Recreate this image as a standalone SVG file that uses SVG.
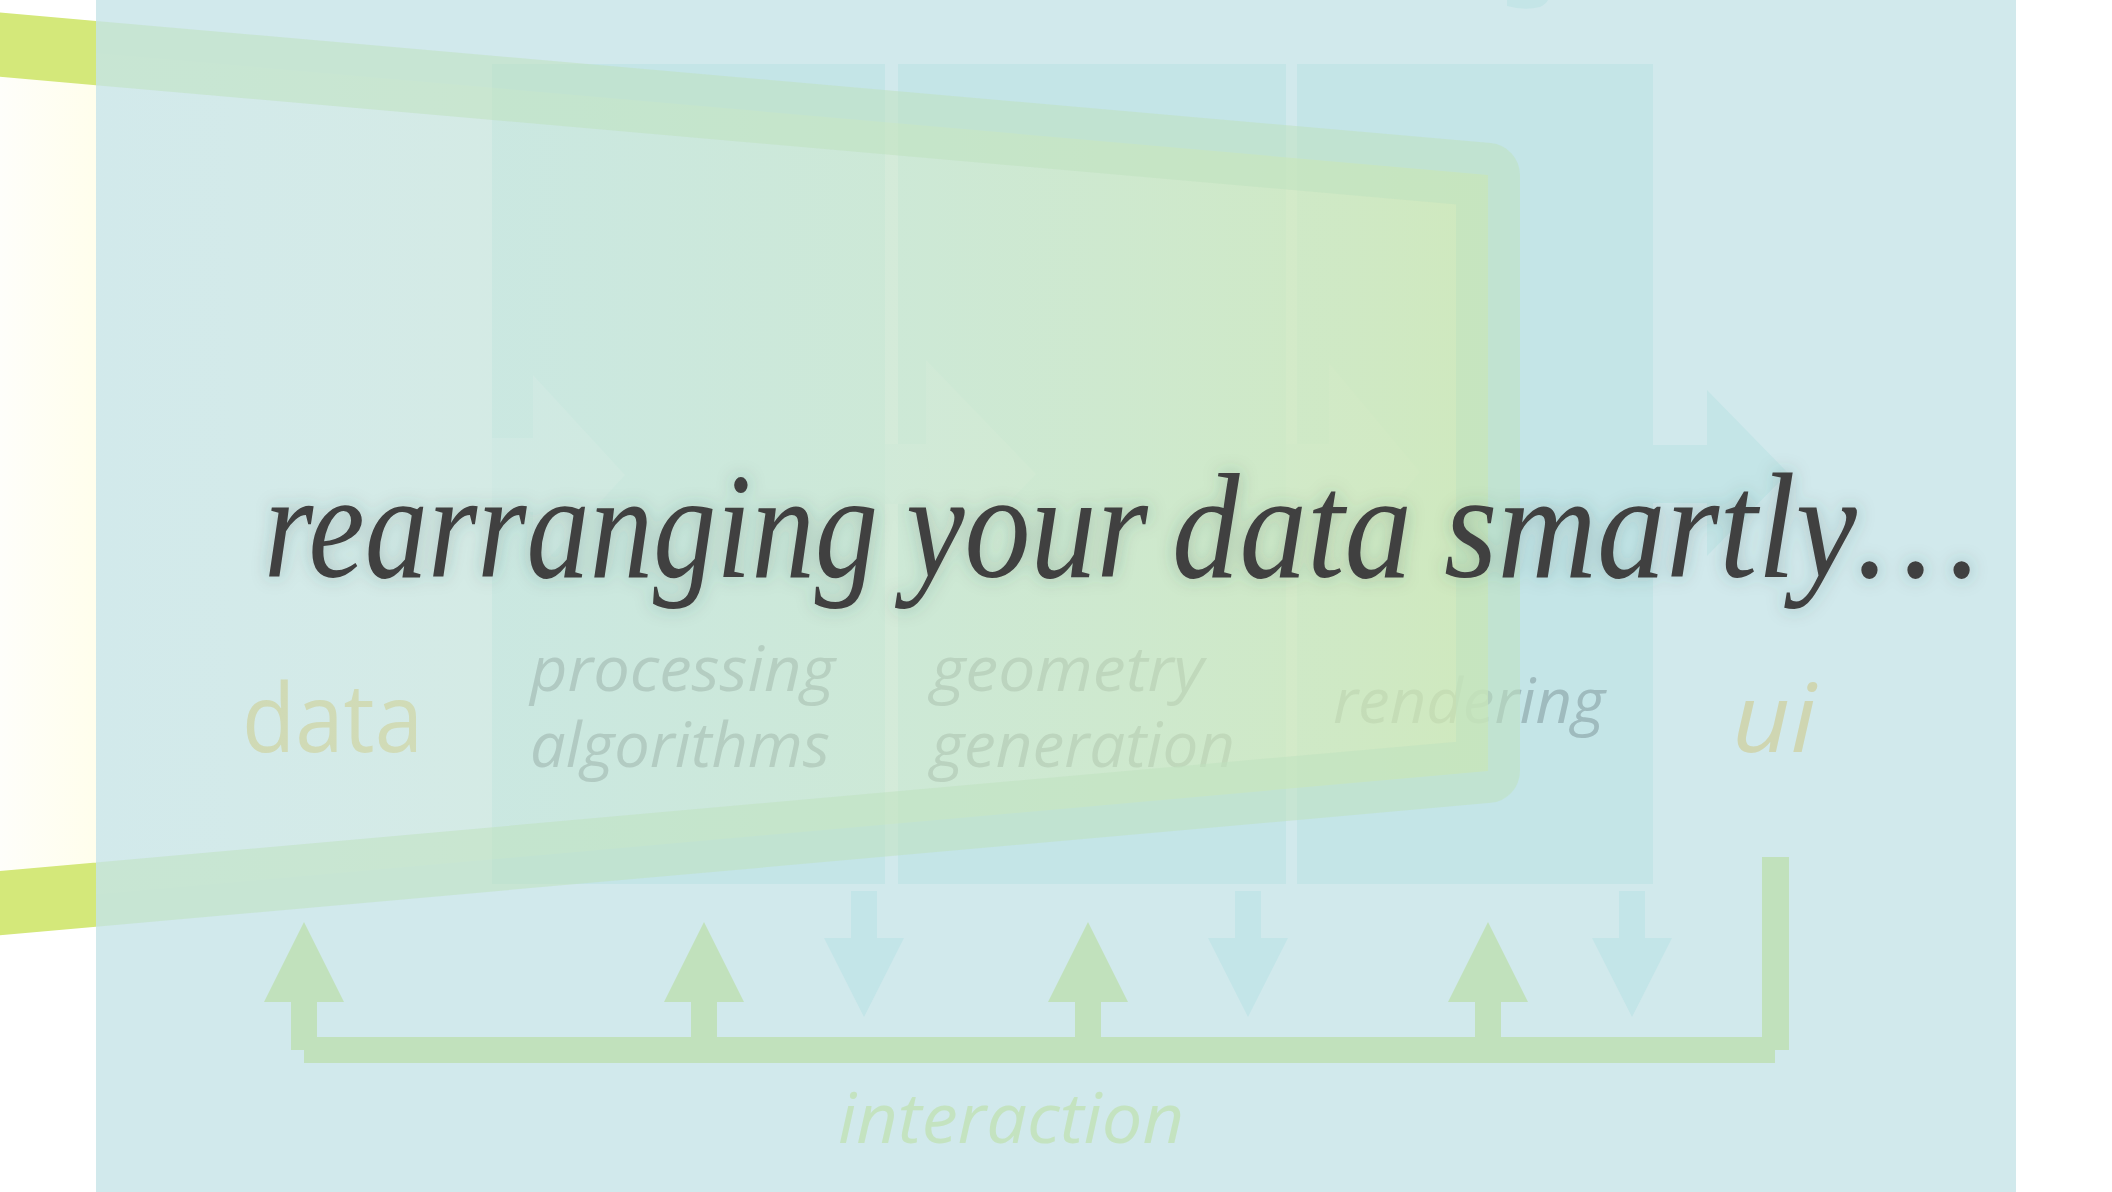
<svg xmlns="http://www.w3.org/2000/svg" width="2112" height="1192" viewBox="0 0 2112 1192">
<defs>
<style>
.box{fill:#c4e5e7}
.flow{fill:#cbe7ea}
.up{fill:#c1e1bc}
.down{fill:#c3e5e8}
.lbl{font-family:"Open Sans","DejaVu Sans",sans-serif}
.it{font-style:italic}
.title{font-family:"Liberation Serif","Times New Roman",serif;font-style:italic;font-size:150px;fill:#404040}
</style>
<clipPath id="leftClip"><rect x="-100" y="-100" width="196" height="1400"/></clipPath>
<clipPath id="mainClip"><rect x="96" y="-100" width="2100" height="1400"/></clipPath>
<linearGradient id="fillLeft" gradientUnits="userSpaceOnUse" x1="0" y1="0" x2="96" y2="0">
<stop offset="0" stop-color="#fefefa"/>
<stop offset="1" stop-color="#fffeec"/>
</linearGradient>
<linearGradient id="fillMain" gradientUnits="userSpaceOnUse" x1="96" y1="0" x2="1457" y2="0">
<stop offset="0" stop-color="#e4f2dc" stop-opacity="0.05"/>
<stop offset="0.5" stop-color="#d8edc6" stop-opacity="0.4"/>
<stop offset="1" stop-color="#d3eab2" stop-opacity="0.75"/>
</linearGradient>
<filter id="glow" x="-5%" y="-40%" width="110%" height="180%">
<feGaussianBlur in="SourceAlpha" stdDeviation="9" result="b"/>
<feFlood flood-color="#2f4f4a" flood-opacity="0.3"/>
<feComposite operator="in" in2="b"/>
<feMerge><feMergeNode/><feMergeNode in="SourceGraphic"/></feMerge>
</filter>
<path id="funnelPath" d="M-40,41.2 L1488,175 L1488,771 L-40,906.6"/>
</defs>

<rect width="2112" height="1192" fill="#ffffff"/>

<!-- left visible part of funnel -->
<g id="funnel-left" clip-path="url(#leftClip)">
<use href="#funnelPath" fill="url(#fillLeft)" stroke="#d4e87a" stroke-width="64" stroke-linejoin="round"/>
</g>

<rect id="panel" x="96" y="0" width="1920" height="1192" fill="#d1e9ec"/>
<path d="M1507,0 L1507,6 Q1525,11 1540,7 Q1546,4 1548,0 Z" fill="#c4e5e7"/>

<!-- pipeline stages -->
<g id="processing">
<rect class="box" x="492" y="64" width="393" height="820"/>
<text class="lbl it" x="530" y="691" font-size="62" fill="#9fbbbe" textLength="305" lengthAdjust="spacingAndGlyphs">processing</text>
<text class="lbl it" x="530" y="767" font-size="62" fill="#9fbbbe" textLength="300" lengthAdjust="spacingAndGlyphs">algorithms</text>
</g>
<g id="geometry">
<rect class="box" x="898" y="64" width="388" height="820"/>
<text class="lbl it" x="931" y="691" font-size="62" fill="#9fbbbe" textLength="273" lengthAdjust="spacingAndGlyphs">geometry</text>
<text class="lbl it" x="931" y="767" font-size="62" fill="#9fbbbe" textLength="304" lengthAdjust="spacingAndGlyphs">generation</text>
</g>
<g id="rendering">
<rect class="box" x="1297" y="64" width="356" height="820"/>
<text class="lbl it" x="1333" y="723" font-size="62" fill="#9fbbbe" textLength="272" lengthAdjust="spacingAndGlyphs">rendering</text>
</g>
<g id="data">
<text class="lbl" x="242" y="752" font-size="96" fill="#cdd6b0" textLength="181" lengthAdjust="spacingAndGlyphs">data</text>
</g>
<g id="ui">
<text class="lbl it" x="1732" y="752" font-size="96" fill="#cfd6b2" textLength="84" lengthAdjust="spacingAndGlyphs">ui</text>
</g>

<!-- flow arrows between stages -->
<g id="flow-arrows">
<polygon class="flow" points="492,438 533,438 533,375 625,475 533,575 533,512 492,512"/>
<polygon class="flow" points="885,444 926,444 926,360 1036,474 926,588 926,504 885,504"/>
<polygon class="flow" points="1286,444 1329,444 1329,363 1420,472 1329,581 1329,500 1286,500"/>
<polygon class="box" points="1653,445 1707,445 1707,390 1788,473 1707,556 1707,503 1653,503"/>
</g>

<!-- funnel over the panel -->
<g id="funnel" clip-path="url(#mainClip)">
<use href="#funnelPath" fill="url(#fillMain)" stroke="#bfe1bf" stroke-opacity="0.55" stroke-width="64" stroke-linejoin="round"/>
</g>

<!-- interaction connectors -->
<g id="connectors">
<rect class="up" x="304" y="1037" width="1471" height="26"/>
<rect class="up" x="1762" y="857" width="27" height="193"/>
<polygon class="up" points="304,922 344,1002 317,1002 317,1050 291,1050 291,1002 264,1002"/>
<polygon class="up" points="704,922 744,1002 717,1002 717,1040 691,1040 691,1002 664,1002"/>
<polygon class="up" points="1088,922 1128,1002 1101,1002 1101,1040 1075,1040 1075,1002 1048,1002"/>
<polygon class="up" points="1488,922 1528,1002 1501,1002 1501,1040 1475,1040 1475,1002 1448,1002"/>
<polygon class="down" points="851,891 877,891 877,938 904,938 864,1017 824,938 851,938"/>
<polygon class="down" points="1235,891 1261,891 1261,938 1288,938 1248,1017 1208,938 1235,938"/>
<polygon class="down" points="1619,891 1645,891 1645,938 1672,938 1632,1017 1592,938 1619,938"/>
</g>
<g id="interaction">
<text class="lbl it" x="838" y="1143" font-size="70" fill="#c4e3c0" textLength="346" lengthAdjust="spacingAndGlyphs">interaction</text>
</g>

<!-- title -->
<g id="title" filter="url(#glow)">
<text class="title" y="577"><tspan x="264" textLength="614" lengthAdjust="spacingAndGlyphs">rearranging</tspan><tspan x="906" textLength="242" lengthAdjust="spacingAndGlyphs">your</tspan><tspan x="1172" textLength="240" lengthAdjust="spacingAndGlyphs">data</tspan><tspan x="1444" textLength="535" lengthAdjust="spacingAndGlyphs">smartly…</tspan></text>
</g>
</svg>
